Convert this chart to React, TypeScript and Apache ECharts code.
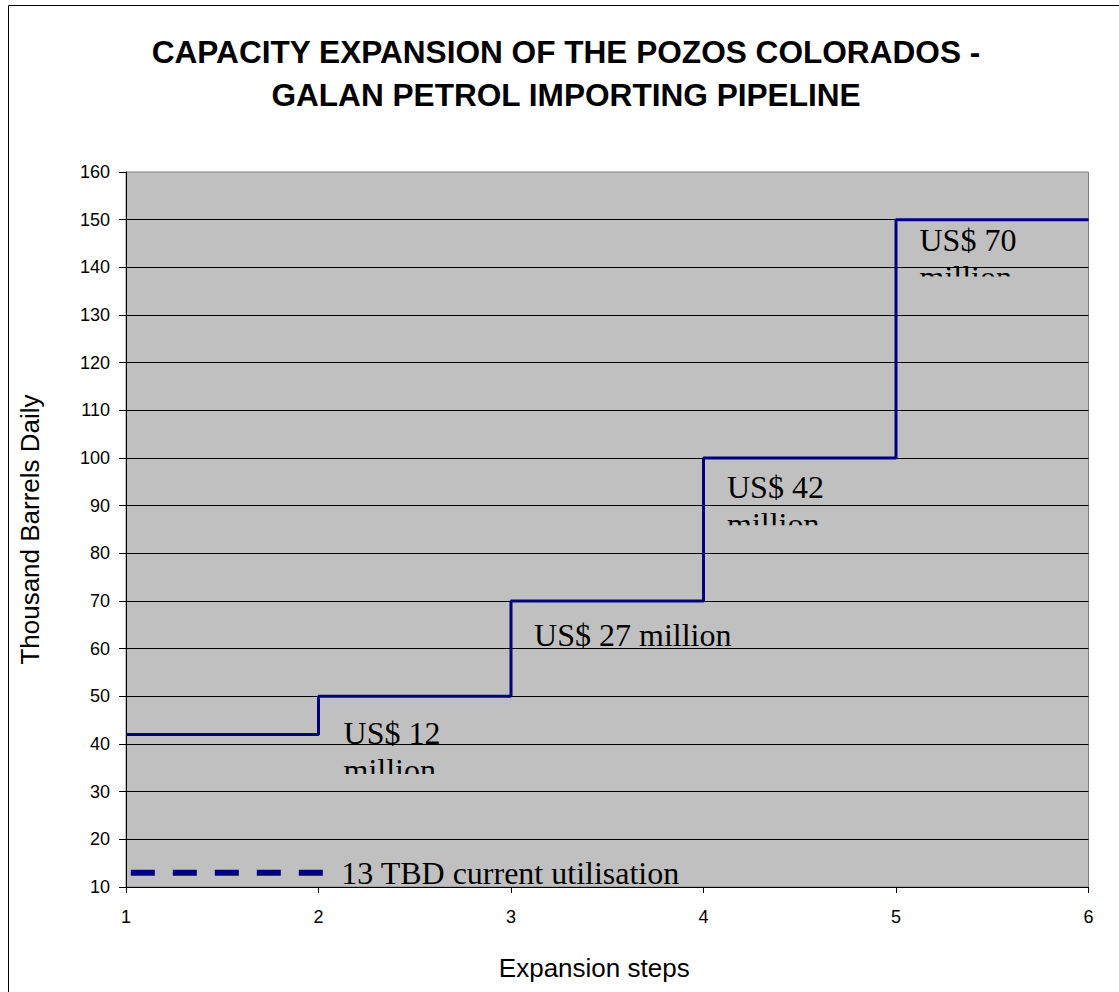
import React, { useEffect, useRef } from "react";
import * as echarts from "echarts";

// Capacity per expansion step, thousand barrels daily
const expansionSteps = [1, 2, 3, 4, 5, 6];
const capacityTBD = [42, 50, 70, 100, 150, 150];

// Current utilisation reference line
const currentUtilisation = 13;
const utilisationSpan = [1.025, 2.025];

// Axis ranges
const xRange = { min: 1, max: 6, step: 1 };
const yRange = { min: 10, max: 160, step: 10 };

const titleLines = [
  "CAPACITY EXPANSION OF THE POZOS COLORADOS -",
  "GALAN PETROL IMPORTING PIPELINE",
];
const yAxisTitle = "Thousand Barrels Daily";
const xAxisTitle = "Expansion steps";

const noteTexts = [
  "US$ 12\nmillion",
  "US$ 27 million",
  "US$ 42\nmillion",
  "US$ 70\nmillion",
  `${currentUtilisation} TBD current utilisation`,
];

// Text box anchors in axis units: left edge, first baseline, lower clip edge of the box
const noteAnchors = [
  { x: 2.13, base: 40.0, clip: 33.7 },
  { x: 3.12, base: 60.5, clip: null },
  { x: 4.122, base: 91.55, clip: 85.9 },
  { x: 5.122, base: 143.5, clip: 138.1 },
  { x: 2.118, base: 10.7, clip: null },
];

const SANS = '"Liberation Sans", Arial, Helvetica, sans-serif';
const SERIF = '"Liberation Serif", "Times New Roman", serif';
const NOTE_FS = 32;
const NOTE_GAP = 37;
const NAVY = "#000080";

export default function App() {
  const ref = useRef<HTMLDivElement>(null);

  useEffect(() => {
    if (!ref.current) return;
    const chart = echarts.init(ref.current, undefined, { renderer: "svg" });

    const stepData = expansionSteps.map((s, i) => [s, capacityTBD[i]]);
    const utilData = utilisationSpan.map((x) => [x, currentUtilisation]);

    chart.setOption({
      animation: false,
      backgroundColor: "#ffffff",
      graphic: [
        {
          type: "rect",
          silent: true,
          shape: { x: 8.5, y: 5.5, width: 1300, height: 1200 },
          style: { fill: "none", stroke: "#000000", lineWidth: 1 },
          z: 100,
        },
        {
          type: "text",
          x: 566,
          y: 30.5,
          style: {
            text: titleLines.join("\n"),
            fill: "#000000",
            fontSize: 31.6,
            fontWeight: "bold",
            fontFamily: SANS,
            lineHeight: 43,
            align: "center",
            verticalAlign: "top",
          },
        },
      ],
      grid: {
        left: 126,
        right: 30.5,
        top: 172,
        bottom: 105,
        show: true,
        backgroundColor: "#C0C0C0",
        borderColor: "#808080",
        borderWidth: 1,
      },
      xAxis: {
        type: "value",
        min: xRange.min,
        max: xRange.max,
        interval: xRange.step,
        name: xAxisTitle,
        nameLocation: "middle",
        nameGap: 68,
        nameTextStyle: {
          fontSize: 26,
          fontFamily: SANS,
          color: "#000000",
          padding: [0, 26, 0, 0],
        },
        axisLine: { show: true, lineStyle: { color: "#000000", width: 1 } },
        axisTick: { show: true, inside: false, length: 6, lineStyle: { color: "#000000" } },
        axisLabel: { fontSize: 18, fontFamily: SANS, color: "#000000", margin: 21 },
        splitLine: { show: false },
      },
      yAxis: {
        type: "value",
        min: yRange.min,
        max: yRange.max,
        interval: yRange.step,
        name: yAxisTitle,
        nameLocation: "middle",
        nameGap: 83,
        nameTextStyle: { fontSize: 26, fontFamily: SANS, color: "#000000" },
        axisLine: { show: true, lineStyle: { color: "#000000", width: 1 } },
        axisTick: { show: true, inside: false, length: 7, lineStyle: { color: "#000000" } },
        axisLabel: { fontSize: 18, fontFamily: SANS, color: "#000000", margin: 16 },
        splitLine: {
          show: true,
          showMinLine: false,
          showMaxLine: false,
          lineStyle: { color: "#000000", width: 1 },
        },
      },
      series: [
        {
          name: "Capacity",
          type: "line",
          step: "end",
          data: stepData,
          symbol: "none",
          lineStyle: { color: NAVY, width: 3 },
          z: 3,
        },
        {
          name: "Current utilisation",
          type: "line",
          data: utilData,
          symbol: "none",
          lineStyle: { color: NAVY, width: 6, type: [24, 18], cap: "butt" },
          z: 3,
        },
        {
          name: "Notes",
          type: "custom",
          coordinateSystem: "cartesian2d",
          data: noteAnchors.map((a) => [a.x, a.base]),
          z: 4,
          silent: true,
          renderItem: (params: any, api: any) => {
            const i = params.dataIndex;
            const a = noteAnchors[i];
            const p = api.coord([a.x, a.base]);
            const px = p[0];
            const py = p[1];
            const lines = noteTexts[i].split("\n");
            const children = lines.map((t, k) => ({
              type: "text",
              style: {
                text: t,
                x: px,
                y: py - NOTE_FS * 0.34 + k * NOTE_GAP,
                fill: "#000000",
                fontSize: NOTE_FS,
                fontFamily: SERIF,
                align: "left",
                verticalAlign: "middle",
              },
            }));
            const group: any = { type: "group", children };
            if (a.clip != null) {
              const cy = api.coord([a.x, a.clip])[1];
              const top = py - NOTE_FS * 1.3;
              group.clipPath = {
                type: "rect",
                shape: { x: px - 10, y: top, width: 400, height: cy - top },
              };
            }
            return group;
          },
        },
      ],
    });

    return () => chart.dispose();
  }, []);

  return (
    <>
      <style>{`html, body { margin: 0; padding: 0; background: #ffffff; }`}</style>
      <div ref={ref} style={{ width: 1119, height: 992 }} />
    </>
  );
}
